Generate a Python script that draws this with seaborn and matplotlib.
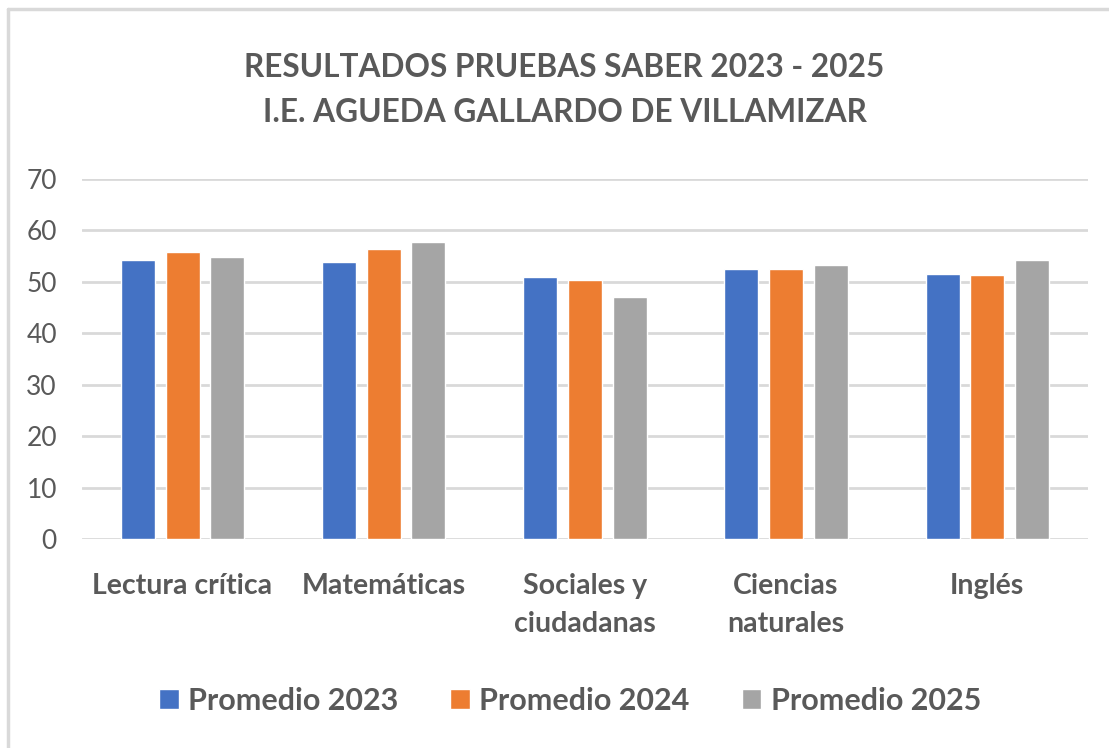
import pandas as pd
import seaborn as sns
import matplotlib.pyplot as plt
from matplotlib.lines import Line2D

# datos
materias = ['Lectura crítica', 'Matemáticas', 'Sociales y\nciudadanas',
            'Ciencias\nnaturales', 'Inglés']
series = ['Promedio 2023', 'Promedio 2024', 'Promedio 2025']
prom_2023 = [54.2, 53.8, 51.0, 52.5, 51.6]
prom_2024 = [55.8, 56.4, 50.3, 52.5, 51.3]
prom_2025 = [54.8, 57.7, 47.0, 53.2, 54.2]
colores = ['#4472C4', '#ED7D31', '#A5A5A5']
titulo = 'RESULTADOS PRUEBAS SABER 2023 - 2025\nI.E. AGUEDA GALLARDO DE VILLAMIZAR'

gris = '#595959'

df = pd.DataFrame({
    'materia': materias * 3,
    'serie': [s for s in series for _ in materias],
    'valor': prom_2023 + prom_2024 + prom_2025,
})

sns.set_style('white')
plt.rcParams['font.family'] = ['Lato', 'DejaVu Sans']

fig = plt.figure(figsize=(11.09, 7.48), dpi=100)
ax = fig.add_axes([0.0739, 0.279, 0.907, 0.482])

sns.barplot(data=df, x='materia', y='valor', hue='serie', palette=colores,
            width=0.667, gap=0.24, ax=ax, legend=True, saturation=1)

ax.set_ylim(0, 70)
ax.set_xlim(-0.5, 4.5)
ax.set_yticks(range(0, 71, 10))
ax.yaxis.grid(True, color='#d9d9d9', linewidth=2)
ax.set_axisbelow(True)
sns.despine(ax=ax, left=True, bottom=True)
ax.set_xlabel('')
ax.set_ylabel('')
ax.tick_params(axis='y', length=0, pad=18, labelsize=19, labelcolor=gris)
ax.tick_params(axis='x', length=0, pad=24, labelsize=20.5, labelcolor=gris)
for t in ax.get_xticklabels():
    t.set_fontweight('bold')
    t.set_linespacing(1.6)

ax.legend_.remove()
fig.legend(*ax.get_legend_handles_labels(), loc='center', ncol=3,
           bbox_to_anchor=(0.514, 0.063), frameon=False,
           prop={'size': 22, 'weight': 'bold'}, labelcolor=gris,
           handlelength=0.65, handleheight=0.65, handletextpad=0.3,
           columnspacing=1.7)

fig.text(0.509, 0.88, titulo, ha='center', va='center', fontsize=22.8,
         fontweight='bold', color=gris, linespacing=1.65)

# borde del area del grafico
fig.add_artist(Line2D([0.0075, 0.0075], [0, 0.988], color='#d9d9d9', lw=2.5))
fig.add_artist(Line2D([0.0075, 1], [0.988, 0.988], color='#d9d9d9', lw=2.5))

plt.savefig('out.png', dpi=100)
